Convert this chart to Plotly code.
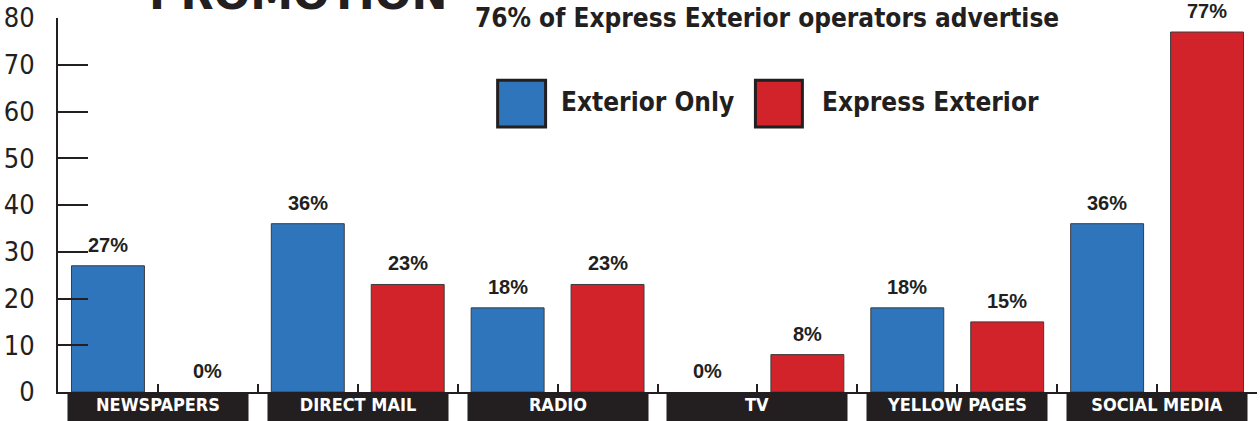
import plotly.graph_objects as go

categories = ["NEWSPAPERS", "DIRECT MAIL", "RADIO", "TV", "YELLOW PAGES", "SOCIAL MEDIA"]
exterior_only = [27, 36, 18, 0, 18, 36]
express_exterior = [0, 23, 23, 8, 15, 77]
series_names = ["Exterior Only", "Express Exterior"]
y_ticks = [0, 10, 20, 30, 40, 50, 60, 70, 80]
title_text = "PROMOTION"
subtitle_text = "76% of Express Exterior operators advertise"

BLUE = "#2E75BB"
RED = "#D2232A"
INK = "#231F20"
NARROW = "DejaVu Sans Condensed, Liberation Sans Narrow, sans-serif"
BOLD = "Liberation Sans, Arial, Helvetica, sans-serif"

BARGAP = 0.0
BARGROUPGAP = 0.27

idx = list(range(len(categories)))

fig = go.Figure()
for name, vals, col in [(series_names[0], exterior_only, BLUE), (series_names[1], express_exterior, RED)]:
    fig.add_trace(go.Bar(
        x=idx, y=vals, name=name,
        marker=dict(color=col, line=dict(color="#3C3C3C", width=[1 if v > 0 else 0 for v in vals])),
        showlegend=False, hoverinfo="skip",
    ))

annotations = []
# value labels above bars, positioned using the grouped-bar geometry
slot = (1 - BARGAP) / 2
for k, vals in enumerate([exterior_only, express_exterior]):
    off = (k - 0.5) * slot
    for i, v in zip(idx, vals):
        annotations.append(dict(
            x=i + off, y=v, xref="x", yref="y", text=f"<b>{v}%</b>",
            showarrow=False, yanchor="bottom", yshift=8,
            font=dict(family=BOLD, size=20, color=INK),
        ))

# category labels in black boxes
for i, c in zip(idx, categories):
    annotations.append(dict(
        x=i, y=0, xref="x", yref="paper", text=f"<b>{c}</b>",
        showarrow=False, yanchor="top", yshift=-1, valign="top",
        width=180, height=30, borderpad=0, bgcolor=INK,
        font=dict(family=NARROW, size=18, color="white"),
    ))

# title (clipped at top) and subtitle
annotations.append(dict(
    x=0.70, y=1, xref="x", yref="paper", text=f"<b>{title_text}</b>",
    showarrow=False, yanchor="bottom", yshift=-3,
    font=dict(family="DejaVu Sans, sans-serif", size=43, color=INK),
))
annotations.append(dict(
    x=3.05, y=1, xref="x", yref="paper", text=f"<b>{subtitle_text}</b>",
    showarrow=False, yanchor="middle",
    font=dict(family=NARROW, size=26, color=INK),
))

# manual legend
legend_items = [(series_names[0], BLUE, 1.70, 1.94, 2.005), (series_names[1], RED, 2.99, 3.225, 3.315)]
shapes = []
for name, col, x0, x1, xt in legend_items:
    shapes.append(dict(type="rect", xref="x", yref="y", x0=x0, x1=x1, y0=56.7, y1=66.7,
                       fillcolor=col, line=dict(color=INK, width=3)))
    annotations.append(dict(
        x=xt, y=62, xref="x", yref="y", text=f"<b>{name}</b>",
        showarrow=False, xanchor="left", yanchor="middle",
        font=dict(family=NARROW, size=26, color=INK),
    ))

fig.update_layout(
    width=1260, height=421,
    margin=dict(l=58, r=3, t=18, b=29),
    plot_bgcolor="white", paper_bgcolor="white",
    barmode="group", bargap=BARGAP, bargroupgap=BARGROUPGAP,
    annotations=annotations, shapes=shapes,
    xaxis=dict(
        range=[-0.5, len(categories) - 0.5],
        tickmode="array",
        tickvals=[i / 2 - 0.5 for i in range(2 * len(categories) + 1)],
        ticktext=[""] * (2 * len(categories) + 1),
        ticks="inside", ticklen=8, tickwidth=2, tickcolor=INK,
        showline=True, linewidth=2, linecolor=INK,
        showgrid=False, zeroline=False, fixedrange=True, automargin=False,
    ),
    yaxis=dict(
        range=[0, 80], tickmode="array", tickvals=y_ticks,
        ticks="inside", ticklen=30, tickwidth=2, tickcolor=INK,
        showline=True, linewidth=2, linecolor=INK,
        showgrid=False, zeroline=False, automargin=False, fixedrange=True,
        tickfont=dict(family=NARROW, size=27, color=INK),
        ticklabelstandoff=16,
    ),
)

fig.write_html(
    "out.html",
    config={"displayModeBar": False, "staticPlot": True},
    post_script="document.body.style.margin='0';document.body.style.padding='0';document.body.style.overflow='hidden';",
)
